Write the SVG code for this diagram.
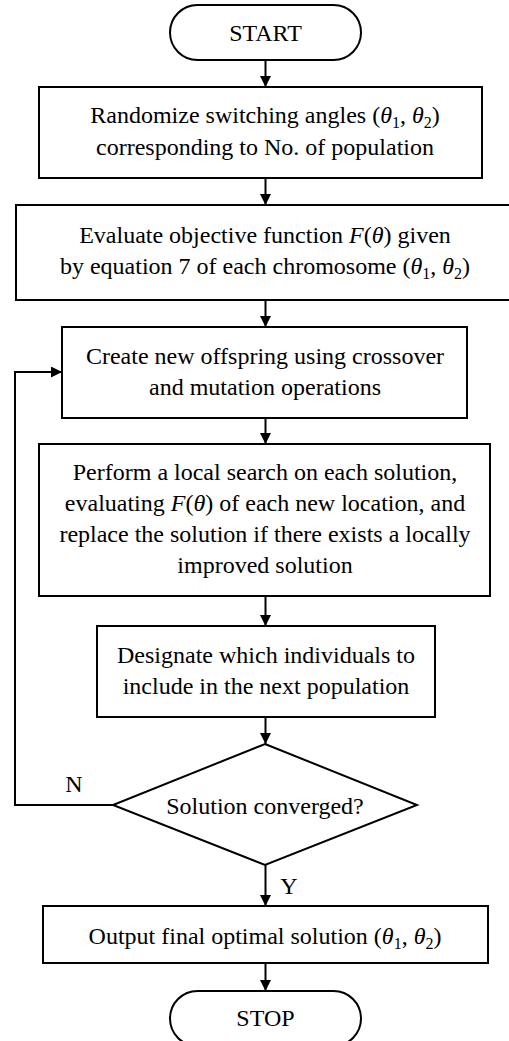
<svg xmlns="http://www.w3.org/2000/svg" width="509" height="1041" viewBox="0 0 509 1041">
<style>
.s{fill:#fff;stroke:#000;stroke-width:2}
.t{font-family:"Liberation Serif","Times New Roman",serif;font-size:24px;fill:#000;text-anchor:middle}
.i{font-style:italic}
.c{fill:none;stroke:#000;stroke-width:2}
</style>
<defs>
<marker id="ah" markerUnits="userSpaceOnUse" markerWidth="11" markerHeight="11" refX="10" refY="5" orient="auto" viewBox="0 0 10 10">
<path d="M0,0 L10,5 L0,10 z" fill="#000"/>
</marker>
</defs>
<rect width="509" height="1041" fill="#fff"/>
<g id="connectors">
<line class="c" x1="265.5" y1="60" x2="265.5" y2="87" marker-end="url(#ah)"/>
<line class="c" x1="265.5" y1="178" x2="265.5" y2="205" marker-end="url(#ah)"/>
<line class="c" x1="265.5" y1="300" x2="265.5" y2="327" marker-end="url(#ah)"/>
<line class="c" x1="265.5" y1="418" x2="265.5" y2="444" marker-end="url(#ah)"/>
<line class="c" x1="265.5" y1="596" x2="265.5" y2="626" marker-end="url(#ah)"/>
<line class="c" x1="265.5" y1="717" x2="265.5" y2="744" marker-end="url(#ah)"/>
<line class="c" x1="265.5" y1="865" x2="265.5" y2="906" marker-end="url(#ah)"/>
<line class="c" x1="265.5" y1="963" x2="265.5" y2="991" marker-end="url(#ah)"/>
<polyline class="c" points="113,805 15,805 15,372 62,372" marker-end="url(#ah)"/>
<text class="t" x="74" y="792">N</text>
<text class="t" x="289" y="894">Y</text>
</g>
<g id="start">
<rect class="s" x="170" y="5" width="191" height="55" rx="27.5"/>
<text class="t" x="265.5" y="41">START</text>
</g>
<g id="randomize">
<rect class="s" x="39" y="87" width="443" height="91"/>
<text class="t" x="265" y="123">Randomize switching angles (<tspan class="i">θ</tspan><tspan font-size="16" dy="5">1</tspan><tspan dy="-5">, </tspan><tspan class="i">θ</tspan><tspan font-size="16" dy="5">2</tspan><tspan dy="-5">)</tspan></text>
<text class="t" x="265" y="155">corresponding to No. of population</text>
</g>
<g id="evaluate">
<rect class="s" x="16" y="205" width="498" height="95"/>
<text class="t" x="265" y="243">Evaluate objective function <tspan class="i">F</tspan>(<tspan class="i">θ</tspan>) given</text>
<text class="t" x="265" y="274">by equation 7 of each chromosome (<tspan class="i">θ</tspan><tspan font-size="16" dy="5">1</tspan><tspan dy="-5">, </tspan><tspan class="i">θ</tspan><tspan font-size="16" dy="5">2</tspan><tspan dy="-5">)</tspan></text>
</g>
<g id="offspring">
<rect class="s" x="62" y="327" width="405" height="91"/>
<text class="t" x="265" y="364">Create new offspring using crossover</text>
<text class="t" x="265" y="395">and mutation operations</text>
</g>
<g id="localsearch">
<rect class="s" x="39" y="444" width="451" height="152"/>
<text class="t" x="265" y="480">Perform a local search on each solution,</text>
<text class="t" x="265" y="511">evaluating <tspan class="i">F</tspan>(<tspan class="i">θ</tspan>) of each new location, and</text>
<text class="t" x="265" y="542">replace the solution if there exists a locally</text>
<text class="t" x="265" y="573">improved solution</text>
</g>
<g id="designate">
<rect class="s" x="97" y="626" width="338" height="91"/>
<text class="t" x="266" y="663">Designate which individuals to</text>
<text class="t" x="266" y="694">include in the next population</text>
</g>
<g id="converged">
<polygon class="s" points="265,744 417,805 265,865 113,805"/>
<text class="t" x="265" y="814">Solution converged?</text>
</g>
<g id="output">
<rect class="s" x="43" y="906" width="445" height="57"/>
<text class="t" x="265" y="944">Output final optimal solution (<tspan class="i">θ</tspan><tspan font-size="16" dy="5">1</tspan><tspan dy="-5">, </tspan><tspan class="i">θ</tspan><tspan font-size="16" dy="5">2</tspan><tspan dy="-5">)</tspan></text>
</g>
<g id="stop">
<rect class="s" x="170" y="991" width="191" height="55" rx="27.5"/>
<text class="t" x="265.5" y="1026">STOP</text>
</g>
</svg>
